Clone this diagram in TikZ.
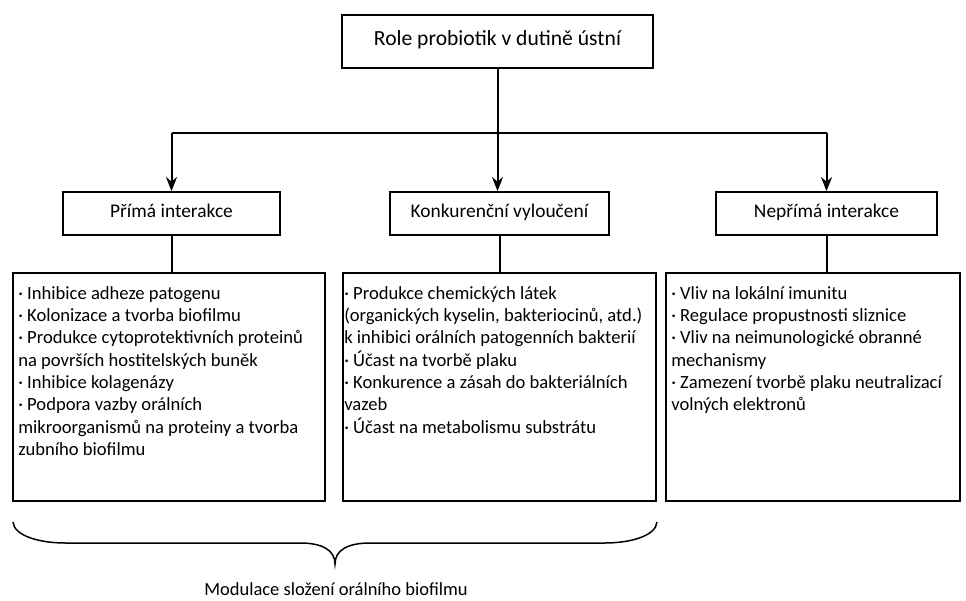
\documentclass[tikz,border=0pt]{standalone}
\usepackage{fontspec}
\setmainfont{Carlito}
\usetikzlibrary{arrows.meta}
\tikzset{
  box/.style={draw=black, line width=1.8pt, inner sep=0pt},
  conn/.style={draw=black, line width=2pt},
  arr/.style={conn, -{Stealth[length=14pt,width=11pt]}},
  body/.style={anchor=north west, inner sep=0pt, align=left, font=\fontsize{18.6}{22.3}\selectfont},
  label/.style={box, minimum height=43pt, text height=13pt, text depth=4pt, font=\fontsize{19.4}{22}\selectfont},
}
\begin{document}
\begin{tikzpicture}[x=1pt,y=-1pt]
\useasboundingbox (0,0) rectangle (966,601);
% header
\node[box, minimum width=311pt, minimum height=53pt, text height=14pt, text depth=5pt, font=\fontsize{21.6}{25}\selectfont] (top) at (497.5,41.5) {Role probiotik v dutině ústní};
% second row
\node[label, minimum width=217pt] (b1) at (171.5,213.5) {Přímá interakce};
\node[label, minimum width=219pt] (b2) at (499.5,213.5) {Konkurenční vyloučení};
\node[label, minimum width=221pt] (b3) at (826.5,213.5) {Nepřímá interakce};
% big boxes
\node[box, minimum width=312pt, minimum height=228pt] (big1) at (169,387) {};
\node[box, minimum width=313pt, minimum height=228pt] (big2) at (499.5,387) {};
\node[box, minimum width=294pt, minimum height=228pt] (big3) at (813,387) {};
% texts
\node[body] (t1) at ([xshift=6pt,yshift=-14pt]big1.north west) {%
· Inhibice adheze patogenu\\
· Kolonizace a tvorba biofilmu\\
· Produkce cytoprotektivních proteinů\\
na površích hostitelských buněk\\
· Inhibice kolagenázy\\
· Podpora vazby orálních\\
mikroorganismů na proteiny a tvorba\\
zubního biofilmu};
\node[body] (t2) at ([xshift=2pt,yshift=-14pt]big2.north west) {%
· Produkce chemických látek\\
(organických kyselin, bakteriocinů, atd.)\\
k inhibici orálních patogenních bakterií\\
· Účast na tvorbě plaku\\
· Konkurence a zásah do bakteriálních\\
vazeb\\
· Účast na metabolismu substrátu};
\node[body] (t3) at ([xshift=6pt,yshift=-14pt]big3.north west) {%
· Vliv na lokální imunitu\\
· Regulace propustnosti sliznice\\
· Vliv na neimunologické obranné\\
mechanismy\\
· Zamezení tvorbě plaku neutralizací\\
volných elektronů};
% connectors
\coordinate (j1) at (171.5,133);
\coordinate (j3) at (826.5,133);
\draw[conn] (j1) -- (j3);
\draw[arr] (top.south) -- (top.south |- b2.north);
\draw[arr] (j1) -- (b1.north);
\draw[arr] (j3) -- (b3.north);
\draw[conn] (b1.south) -- (b1.south |- big1.north);
\draw[conn] (b2.south) -- (b2.south |- big2.north);
\draw[conn] (b3.south) -- (b3.south |- big3.north);
% brace
\coordinate (bl) at (13,522);
\coordinate (br) at (657,522);
\coordinate (btip) at (335,564);
\draw[line width=1.5pt] (bl) .. controls (14,536) and (40,543) .. (65,543) -- (300,543)
  .. controls (322,543) and (335,550) .. (btip)
  .. controls (335,550) and (348,543) .. (370,543) -- (605,543)
  .. controls (630,543) and (656,536) .. (br);
\node[font=\fontsize{18.5}{22}\selectfont] (cap) at (336,589) {Modulace složení orálního biofilmu};
\end{tikzpicture}
\end{document}
